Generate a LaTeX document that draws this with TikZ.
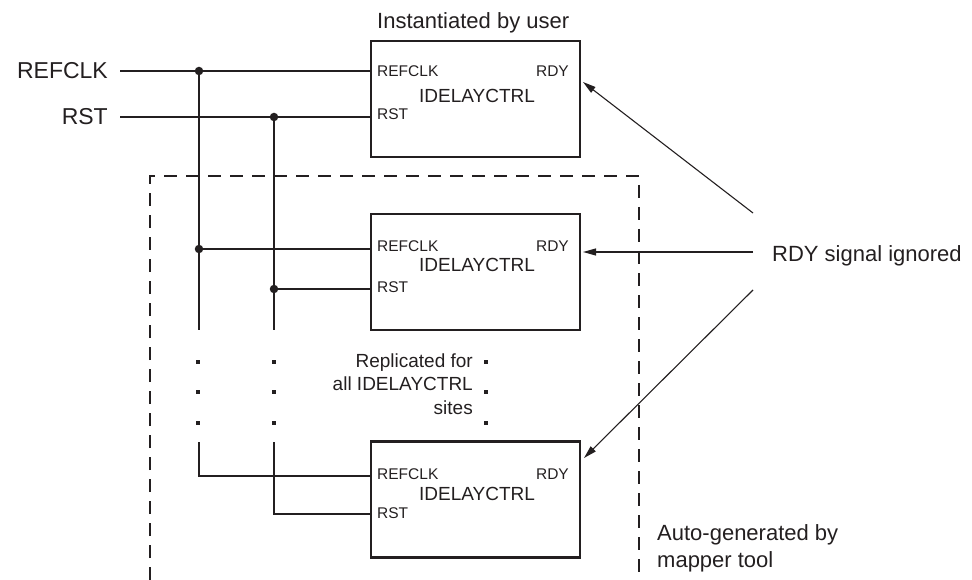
\documentclass[tikz,border=0pt]{standalone}
\usepackage{fontspec}
\setmainfont{Liberation Sans}
\usetikzlibrary{arrows.meta}
\definecolor{ink}{HTML}{231F20}
\begin{document}
\begin{tikzpicture}[x=1pt,y=-1pt, every node/.style={text=ink},
  ctrl/.style={draw=ink, line width=2.2pt, minimum width=209pt, minimum height=116pt, inner sep=0pt},
  wire/.style={draw=ink, line width=1.3pt},
  port/.style={inner sep=0pt, font=\fontsize{15.5}{18}\selectfont},
  title/.style={inner sep=0pt, font=\fontsize{19}{22}\selectfont},
  biglabel/.style={inner sep=0pt, font=\fontsize{23}{27}\selectfont},
  note/.style={inner sep=0pt, font=\fontsize{22}{26.5}\selectfont},
  small/.style={inner sep=0pt, font=\fontsize{19}{23.5}\selectfont},
  junction/.style={circle, fill=ink, inner sep=0pt, minimum size=8.5pt},
  vdot/.style={fill=ink, inner sep=0pt, minimum size=3.2pt},
  rdyarrow/.style={draw=ink, line width=1.1pt, -{Triangle[length=13pt,width=7pt]}},
  frame/.style={draw=ink, line width=1.2pt, dash pattern=on 13pt off 9pt}
]
\useasboundingbox (0,0) rectangle (972,580);

% boxes
\node[ctrl] (b1) at (475.5,99) {};
\node[ctrl] (b2) at (475.5,272) {};
\node[ctrl] (b3) at (475.5,499.5) {};

% box texts
\node[port, anchor=base west] (b1rc) at (377,76.7) {REFCLK};
\node[port, anchor=base west] (b1rs) at (377,120) {RST};
\node[port, anchor=base east] (b1rdy) at (569,76.7) {RDY};
\node[title, anchor=base] (b1t) at (477,102.7) {IDELAYCTRL};

\node[port, anchor=base west] (b2rc) at (377,251.7) {REFCLK};
\node[port, anchor=base west] (b2rs) at (377,292.7) {RST};
\node[port, anchor=base east] (b2rdy) at (569,251.7) {RDY};
\node[title, anchor=base] (b2t) at (477,271.7) {IDELAYCTRL};

\node[port, anchor=base west] (b3rc) at (377,479.3) {REFCLK};
\node[port, anchor=base west] (b3rs) at (377,518.3) {RST};
\node[port, anchor=base east] (b3rdy) at (569,479.3) {RDY};
\node[title, anchor=base] (b3t) at (477,500) {IDELAYCTRL};

% headings
\node[note, anchor=base west] (inst) at (377,29) {Instantiated by user};

% inputs
\node[biglabel, anchor=base east] (refclk) at (108,79) {REFCLK};
\node[biglabel, anchor=base east] (rst) at (108,125) {RST};

\coordinate (clkin) at (120,71);
\coordinate (rstin) at (120,117);
\coordinate (j1) at (199,71);
\coordinate (j2) at (274,117);
\coordinate (j3) at (199,249);
\coordinate (j4) at (274,289);
\coordinate (v1e) at (199,330);
\coordinate (v2e) at (274,330);
\coordinate (v3s) at (199,442);
\coordinate (v4s) at (274,442);
\coordinate (c3) at (199,476);
\coordinate (c4) at (274,514);

\draw[wire] (clkin) -- (b1.west |- clkin);
\draw[wire] (rstin) -- (b1.west |- rstin);
\draw[wire] (j1) -- (v1e);
\draw[wire] (j2) -- (v2e);
\draw[wire] (j3) -- (b2.west |- j3);
\draw[wire] (j4) -- (b2.west |- j4);
\draw[wire] (v3s) -- (c3) -- (b3.west |- c3);
\draw[wire] (v4s) -- (c4) -- (b3.west |- c4);

\node[junction] (dj1) at (j1) {};
\node[junction] (dj2) at (j2) {};
\node[junction] (dj3) at (j3) {};
\node[junction] (dj4) at (j4) {};

% continuation dots
\foreach \yy [count=\i] in {362,392,423} {
  \node[vdot] (da\i) at (198,\yy) {};
  \node[vdot] (db\i) at (274,\yy) {};
  \node[vdot] (dc\i) at (486,\yy) {};
}
\node[small, anchor=base east, align=right] (repl) at (473,414) {Replicated for\\all IDELAYCTRL\\sites};

% dashed region
\coordinate (fbl) at (150,580);
\coordinate (ftl) at (150,176);
\coordinate (ftr) at (639,176);
\coordinate (fbr) at (639,580);
\draw[frame] (fbl) -- (ftl) -- (ftr) -- (fbr);
\node[note, anchor=base west, align=left] (auto) at (657,567) {Auto-generated by\\mapper tool};

% RDY
\node[note, anchor=base west] (ign) at (772,261.7) {RDY signal ignored};
\coordinate (s1) at (753,213);
\coordinate (s2) at (753,252);
\coordinate (s3) at (753,290);
\coordinate (t1) at (583,82);
\coordinate (t2) at (583,252);
\coordinate (t3) at (584,458);
\draw[rdyarrow] (s1) -- (t1);
\draw[rdyarrow] (s2) -- (t2);
\draw[rdyarrow] (s3) -- (t3);
\end{tikzpicture}
\end{document}
